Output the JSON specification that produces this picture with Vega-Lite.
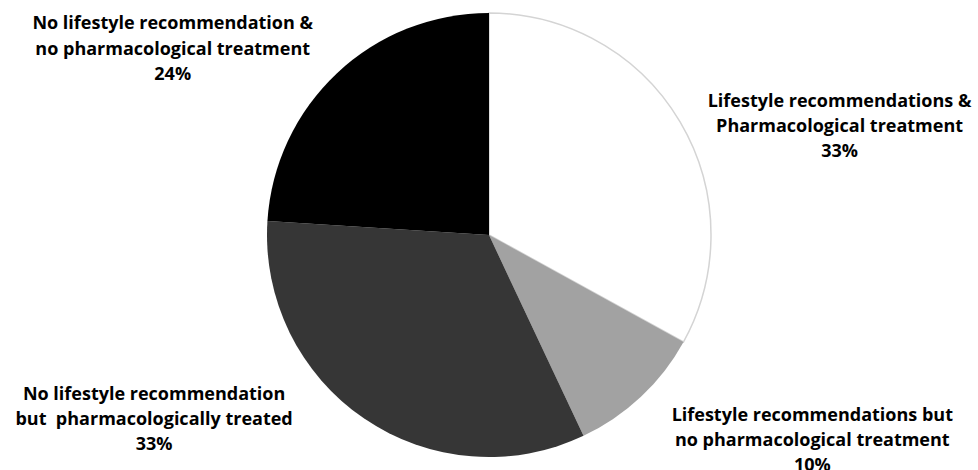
{
  "$schema": "https://vega.github.io/schema/vega-lite/v6.json",
  "width": 978,
  "height": 470,
  "padding": 0,
  "autosize": "none",
  "background": "white",
  "config": {"view": {"stroke": null}, "text": {"font": "Open Sans"}},
  "data": {
    "values": [
      {"cat": "Lifestyle recommendations & Pharmacological treatment", "label": "Lifestyle recommendations &\nPharmacological treatment\n33%", "value": 33, "rank": 1},
      {"cat": "Lifestyle recommendations but no pharmacological treatment", "label": "Lifestyle recommendations but\nno pharmacological treatment\n10%", "value": 10, "rank": 2},
      {"cat": "No lifestyle recommendation but pharmacologically treated", "label": "No lifestyle recommendation\nbut\u00a0 pharmacologically treated\n33%", "value": 33, "rank": 3},
      {"cat": "No lifestyle recommendation & no pharmacological treatment", "label": "No lifestyle recommendation &\nno pharmacological treatment\n24%", "value": 24, "rank": 4}
    ]
  },
  "encoding": {
    "theta": {"field": "value", "type": "quantitative", "stack": true},
    "order": {"field": "rank", "type": "quantitative"},
    "detail": {"field": "cat", "type": "nominal"}
  },
  "layer": [
    {
      "mark": {"type": "arc", "radius": 222},
      "encoding": {
        "color": {
          "field": "cat",
          "type": "nominal",
          "legend": null,
          "scale": {
            "domain": [
              "Lifestyle recommendations & Pharmacological treatment",
              "Lifestyle recommendations but no pharmacological treatment",
              "No lifestyle recommendation but pharmacologically treated",
              "No lifestyle recommendation & no pharmacological treatment"
            ],
            "range": ["#ffffff", "#a2a2a2", "#363636", "#000000"]
          }
        },
        "stroke": {
          "condition": {"test": "datum.rank === 1", "value": "#d4d4d4"},
          "value": null
        },
        "strokeWidth": {"value": 1.5}
      }
    },
    {
      "mark": {"type": "text", "radius": 240, "dx": 144, "dy": -11, "fontSize": 18, "fontWeight": "bold", "lineHeight": 25, "lineBreak": "\n", "align": "center", "baseline": "middle", "color": "black"},
      "encoding": {"text": {"condition": {"test": "datum.rank === 1", "field": "label"}, "value": ""}}
    },
    {
      "mark": {"type": "text", "radius": 240, "dx": 159, "dy": 6, "fontSize": 18, "fontWeight": "bold", "lineHeight": 25, "lineBreak": "\n", "align": "center", "baseline": "middle", "color": "black"},
      "encoding": {"text": {"condition": {"test": "datum.rank === 2", "field": "label"}, "value": ""}}
    },
    {
      "mark": {"type": "text", "radius": 240, "dx": -200, "dy": -38, "fontSize": 18, "fontWeight": "bold", "lineHeight": 25, "lineBreak": "\n", "align": "center", "baseline": "middle", "color": "black"},
      "encoding": {"text": {"condition": {"test": "datum.rank === 3", "field": "label"}, "value": ""}}
    },
    {
      "mark": {"type": "text", "radius": 240, "dx": -152, "dy": -36, "fontSize": 18, "fontWeight": "bold", "lineHeight": 25.5, "lineBreak": "\n", "align": "center", "baseline": "middle", "color": "black"},
      "encoding": {"text": {"condition": {"test": "datum.rank === 4", "field": "label"}, "value": ""}}
    }
  ]
}
